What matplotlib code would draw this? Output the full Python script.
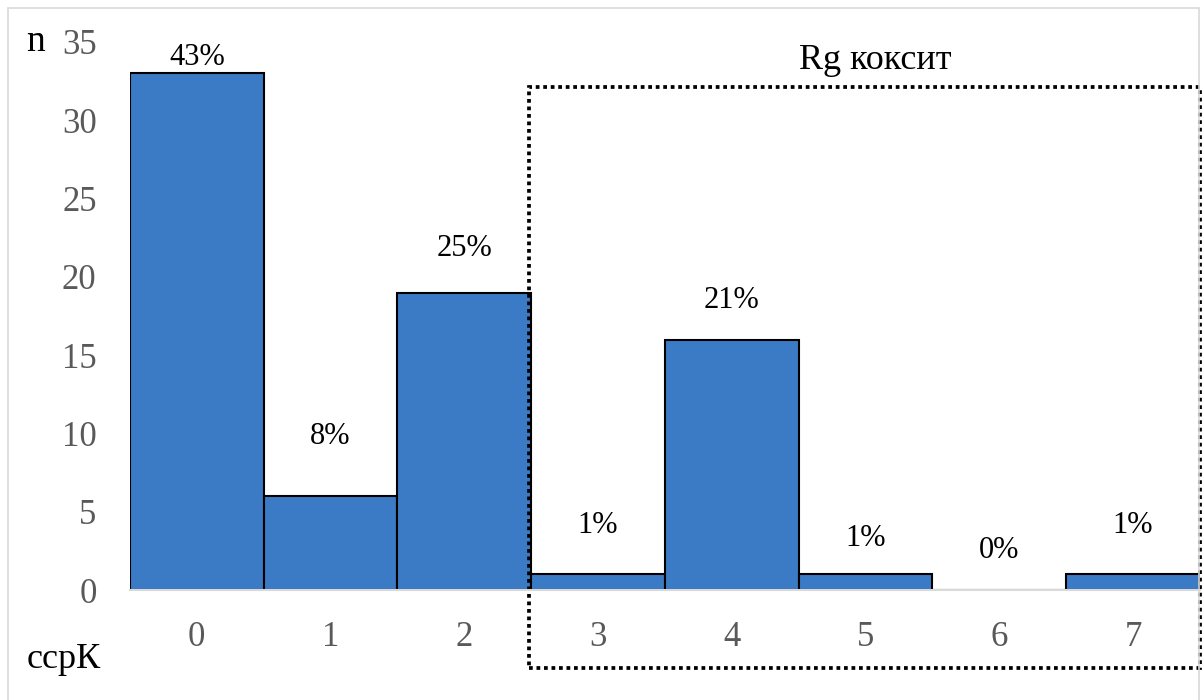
import matplotlib.pyplot as plt
from matplotlib.patches import Rectangle
import numpy as np

plt.rcParams['font.family'] = ['Liberation Serif', 'DejaVu Serif']

# data
categories = ['0', '1', '2', '3', '4', '5', '6', '7']
counts = [33, 6, 19, 1, 16, 1, 0, 1]
pct_labels = ['43%', '8%', '25%', '1%', '21%', '1%', '0%', '1%']

# label heights above each bar (Excel-style manual placement)
label_lift = [1.0, 3.8, 2.8, 3.1, 2.5, 2.3, 2.5, 3.1]

x = np.arange(len(categories))

fig = plt.figure(figsize=(12.03, 7.0), dpi=100)
ax = fig.add_axes([0.108, 0.157, 0.8895, 0.783])

ax.bar(x, counts, width=1.0, color='#3b7bc6', edgecolor='black', linewidth=1.5, zorder=3)

for xi, c, lab, lift in zip(x, counts, pct_labels, label_lift):
    ax.text(xi, c + lift, lab, ha='center', va='center', fontsize=22, color='black')

ax.set_xlim(-0.5, len(categories) - 0.5)
ax.set_ylim(0, 35)
ax.set_yticks(np.arange(0, 36, 5))
ax.set_xticks(x)
ax.set_xticklabels(categories)
ax.tick_params(axis='both', length=0, labelsize=25, labelcolor='#595959')
ax.tick_params(axis='y', pad=24)
ax.tick_params(axis='x', pad=22)

for s in ['left', 'right', 'top']:
    ax.spines[s].set_visible(False)
ax.spines['bottom'].set_color('#d9d9d9')
ax.spines['bottom'].set_linewidth(1.5)
ax.spines['bottom'].set_zorder(5)

# dotted frame for the Rg coxitis group
box = Rectangle((2.48, -5.0), 5.02, 37.1, fill=False, edgecolor='black',
                linewidth=2.7, linestyle=(0, (1, 1)), clip_on=False, zorder=4)
ax.add_patch(box)
ax.text(5.07, 33.8, 'Rg коксит', ha='center', va='center', fontsize=26, color='black')

# axis titles
fig.text(0.022, 0.94, 'n', ha='left', va='center', fontsize=27)
fig.text(0.022, 0.045, 'ссрК', ha='left', va='baseline', fontsize=26)

# chart-area border
fig.patches.append(Rectangle((8 / 1203, -0.01), (1199 - 8) / 1203, 1 - 8 / 700 + 0.01,
                             transform=fig.transFigure, fill=False,
                             edgecolor='#d9d9d9', linewidth=1.2))

fig.savefig('out.png', dpi=100)
